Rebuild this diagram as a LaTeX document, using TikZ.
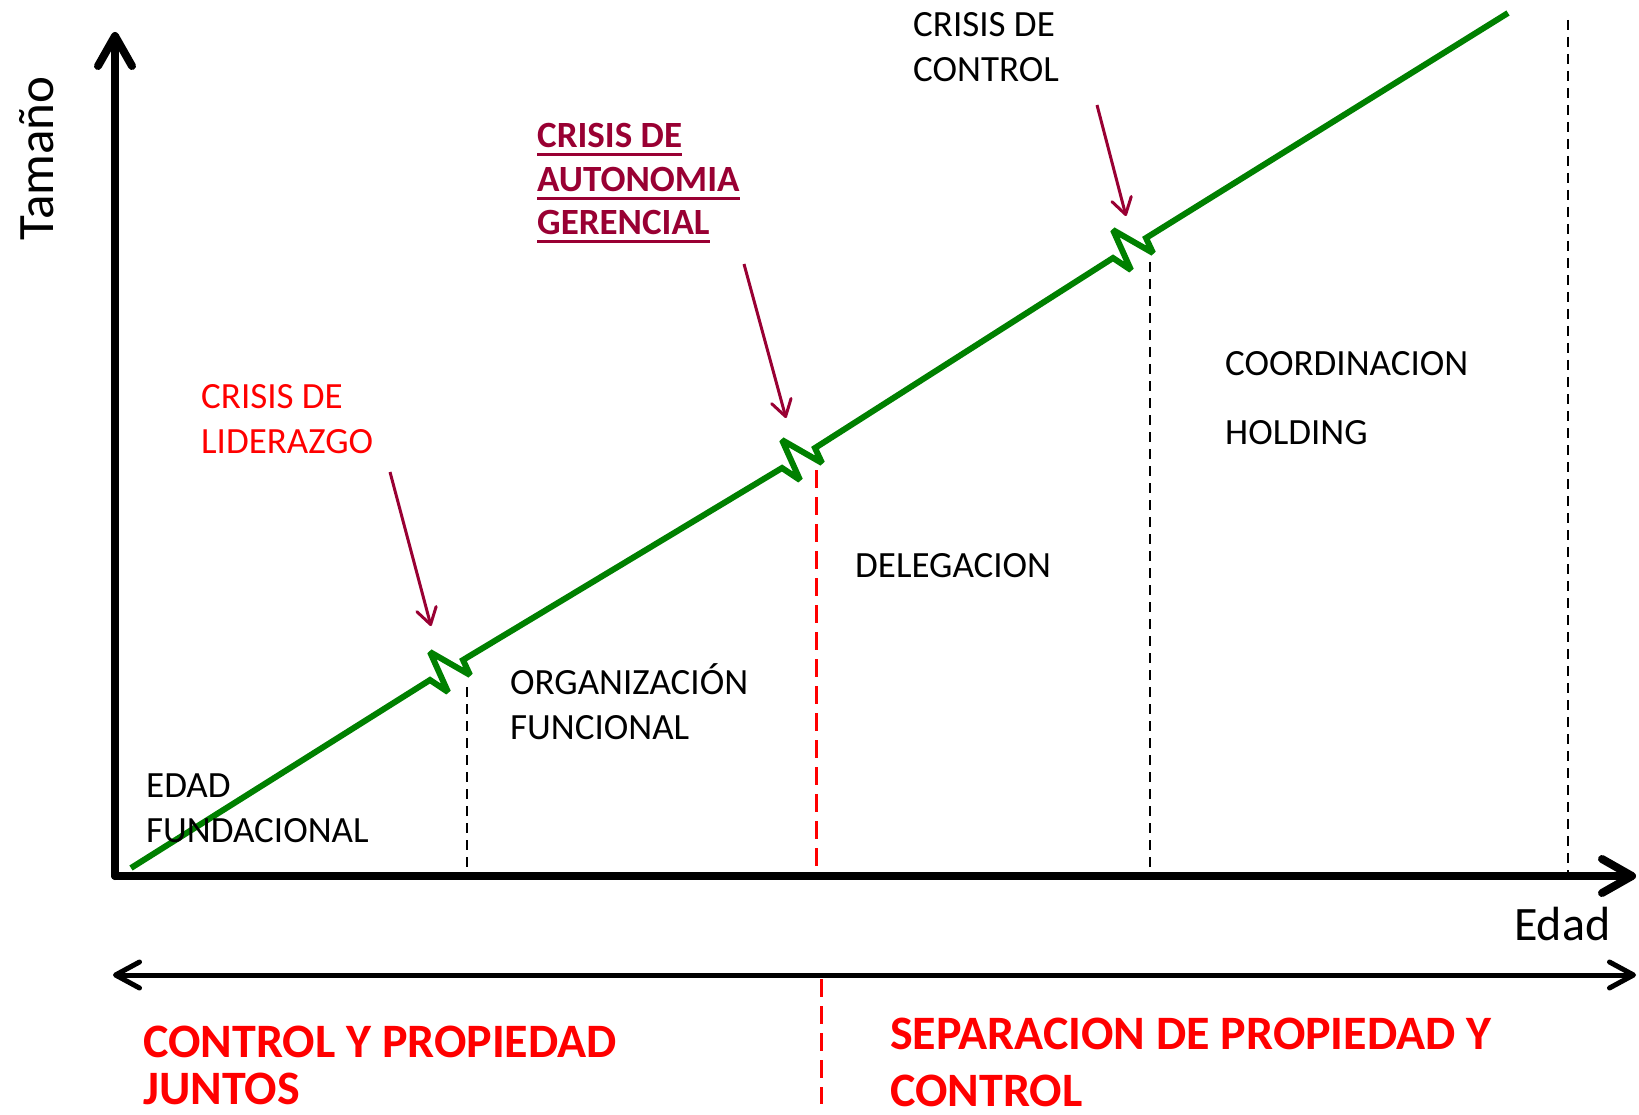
\documentclass[tikz,border=0pt]{standalone}
\usepackage{fontspec}
\setmainfont{Carlito}
\usetikzlibrary{arrows.meta}
\definecolor{grn}{RGB}{0,128,0}
\definecolor{wine}{RGB}{153,0,51}
\definecolor{redc}{RGB}{255,0,0}
\tikzset{
  txt/.style={inner sep=0pt, anchor=base west, font=\fontsize{37}{45}\selectfont},
  bigtxt/.style={inner sep=0pt, anchor=base west, text=redc, font=\bfseries\fontsize{48}{50}\selectfont},
  wtxt/.style={txt, text=wine, font=\bfseries\fontsize{37}{45}\selectfont},
  axisline/.style={line width=8pt, line cap=round, -{Straight Barb[length=30pt,width=34pt,line cap=round,line join=round]}},
  spanline/.style={line width=5pt, {Straight Barb[length=24pt,width=26pt,line cap=round,line join=round]}-{Straight Barb[length=24pt,width=26pt,line cap=round,line join=round]}},
  growth/.style={draw=grn, line width=6pt, line join=miter, miter limit=3},
  bdash/.style={draw=black, line width=2pt, dash pattern=on 10pt off 7pt},
  rdash/.style={draw=redc, line width=3pt, dash pattern=on 18pt off 9pt},
  pointer/.style={draw=wine, line width=3pt, -{Straight Barb[length=16pt,width=20pt,line cap=round,line join=round]}},
  uline/.style={draw=wine, line width=3pt}
}
\begin{document}
\begin{tikzpicture}[x=1pt,y=-1pt]
\useasboundingbox (0,0) rectangle (1639,1115);

% coordinates
\coordinate (O) at (115,876);
\coordinate (Ytip) at (115,32);
\coordinate (Xtip) at (1636,876);
\coordinate (Lspan) at (113,975);
\coordinate (Rspan) at (1636,975);
\coordinate (G0) at (131,868);
\coordinate (A1) at (430,680);
\coordinate (A2) at (782,468);
\coordinate (A3) at (1113,258);
\coordinate (G4) at (1508,13);

% growth line with breaks
\draw[growth] (G0) -- (A1) -- ++(18,12) -- ++(-18,-40) -- ++(40,23) -- ++(-7,-15)
  -- (A2) -- ++(18,12) -- ++(-18,-40) -- ++(40,23) -- ++(-7,-15)
  -- (A3) -- ++(18,12) -- ++(-18,-40) -- ++(40,23) -- ++(-7,-15)
  -- (G4);

% dashed dividers
\coordinate (D1t) at (467,687); \coordinate (D1b) at (467,872);
\coordinate (D2t) at (816.5,470); \coordinate (D2b) at (816.5,872);
\coordinate (D3t) at (1150,262); \coordinate (D3b) at (1150,872);
\coordinate (D4t) at (1568,20); \coordinate (D4b) at (1568,872);
\coordinate (D5t) at (821.5,979); \coordinate (D5b) at (821.5,1104);
\draw[bdash] (D1t) -- (D1b);
\draw[rdash] (D2t) -- (D2b);
\draw[bdash] (D3t) -- (D3b);
\draw[bdash] (D4t) -- (D4b);
\draw[rdash] (D5t) -- (D5b);

% axes
\draw[axisline] (O) -- (Ytip);
\draw[axisline] (O) -- (Xtip);
\draw[spanline] (Lspan) -- (Rspan);

% pointers
\coordinate (P1s) at (390,472); \coordinate (P1e) at (431,626);
\coordinate (P2s) at (744,264); \coordinate (P2e) at (786,418);
\coordinate (P3s) at (1097,105); \coordinate (P3e) at (1126,216);
\draw[pointer] (P1s) -- (P1e);
\draw[pointer] (P2s) -- (P2e);
\draw[pointer] (P3s) -- (P3e);

% labels
\node[txt] (t1a) at (146,797) {EDAD};
\node[txt] (t1b) at (146,842) {FUNDACIONAL};
\node[txt, text=redc] (c1a) at (201,408) {CRISIS DE};
\node[txt, text=redc] (c1b) at (201,453) {LIDERAZGO};
\node[txt] (t2a) at (510,694) {ORGANIZACIÓN};
\node[txt] (t2b) at (510,739) {FUNCIONAL};
\node[wtxt] (c2a) at (537,148) {CRISIS DE};
\node[wtxt] (c2b) at (537,192) {AUTONOMIA};
\node[wtxt] (c2c) at (537,235) {GERENCIAL};
\draw[uline] ([yshift=-7pt]c2a.base west) -- ([yshift=-7pt]c2a.base east);
\draw[uline] ([yshift=-7pt]c2b.base west) -- ([yshift=-7pt]c2b.base east);
\draw[uline] ([yshift=-7pt]c2c.base west) -- ([yshift=-7pt]c2c.base east);
\node[txt] (t3) at (855,577) {DELEGACION};
\node[txt] (c3a) at (913,37) {CRISIS DE};
\node[txt] (c3b) at (913,82) {CONTROL};
\node[txt] (t4a) at (1225,376) {COORDINACION};
\node[txt] (t4b) at (1225,444) {HOLDING};
\node[inner sep=0pt, anchor=base west, rotate=90, font=\fontsize{51}{60}\selectfont] (ylab) at (53,241) {Tamaño};
\node[inner sep=0pt, anchor=base west, font=\fontsize{48}{55}\selectfont] (xlab) at (1514,940) {Edad};
\node[bigtxt] (b1a) at (143,1057) {CONTROL Y PROPIEDAD};
\node[bigtxt] (b1b) at (143,1104) {JUNTOS};
\node[bigtxt] (b2a) at (890,1049) {SEPARACION DE PROPIEDAD Y};
\node[bigtxt] (b2b) at (890,1106) {CONTROL};
\end{tikzpicture}
\end{document}
